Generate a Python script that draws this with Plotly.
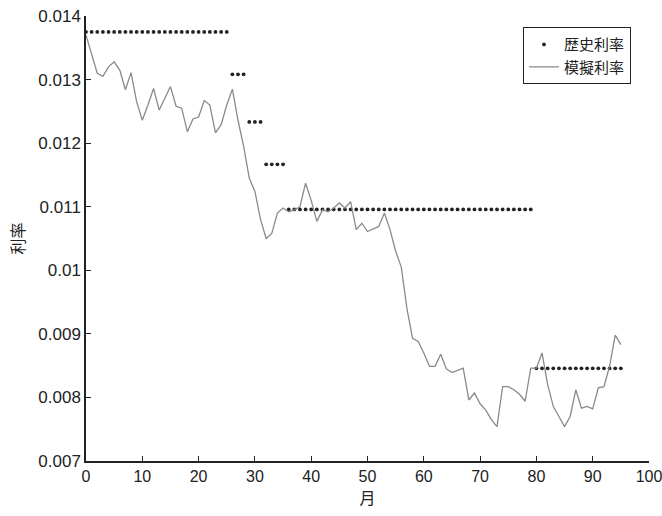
import plotly.graph_objects as go

# Month index 0..95
months = list(range(96))

# Historical monthly rates (annual rate / 12), held constant between changes
hist_levels = [0.01375, 0.013083, 0.012333, 0.011667, 0.010958, 0.008458]
hist_counts = [26, 3, 3, 4, 44, 16]
hist_rate = [lv for lv, n in zip(hist_levels, hist_counts) for _ in range(n)]

# Simulated monthly rate path
sim_rate = [
    0.01370, 0.01340, 0.01310, 0.01305, 0.01320, 0.01328, 0.01315, 0.01284, 0.01311, 0.01265,
    0.01236, 0.01260, 0.01286, 0.01252, 0.01270, 0.01289, 0.01258, 0.01255, 0.01218, 0.01238,
    0.01241, 0.01267, 0.01260, 0.01216, 0.01229, 0.01260, 0.01285, 0.01236, 0.01195, 0.01145,
    0.01124, 0.01080, 0.01050, 0.01058, 0.01090, 0.01098, 0.01092, 0.01095, 0.01100, 0.01137,
    0.01110, 0.01077, 0.01095, 0.01092, 0.01098, 0.01106, 0.01098, 0.01108, 0.01064, 0.01074,
    0.01061, 0.01065, 0.01069, 0.01090, 0.01064, 0.01030, 0.01005, 0.00940, 0.00893, 0.00888,
    0.00870, 0.00849, 0.00849, 0.00868, 0.00845, 0.00839, 0.00842, 0.00846, 0.00796, 0.00807,
    0.00790, 0.00780, 0.00765, 0.00754, 0.00817, 0.00817, 0.00812, 0.00805, 0.00794, 0.00846,
    0.00846, 0.00870, 0.00820, 0.00786, 0.00770, 0.00754, 0.00770, 0.00812, 0.00783, 0.00786,
    0.00782, 0.00815, 0.00817, 0.00849, 0.00898, 0.00883,
]

x_ticks = list(range(0, 101, 10))
y_ticks = [0.007, 0.008, 0.009, 0.010, 0.011, 0.012, 0.013, 0.014]
y_tick_text = ["0.007", "0.008", "0.009", "0.01", "0.011", "0.012", "0.013", "0.014"]

NUM_FONT = "Liberation Sans, Arial, sans-serif"
CJK_FONT = "Noto Sans CJK JP, sans-serif"

fig = go.Figure()
fig.add_trace(go.Scatter(
    x=months, y=hist_rate, mode="markers", name="歴史利率",
    marker=dict(symbol="circle", size=3.8, color="#222222"),
))
fig.add_trace(go.Scatter(
    x=months, y=sim_rate, mode="lines", name="模擬利率",
    line=dict(color="#8a8a8a", width=1.3),
))

fig.update_layout(
    width=662, height=516,
    margin=dict(l=86, r=13, t=16, b=55, autoexpand=False),
    paper_bgcolor="white", plot_bgcolor="white",
    showlegend=True,
    legend=dict(
        x=0.968, y=0.975, xanchor="right", yanchor="top",
        bgcolor="white", bordercolor="#222222", borderwidth=1,
        font=dict(family=CJK_FONT, size=15, color="#222222"),
        itemwidth=30, tracegroupgap=0,
    ),
)
fig.update_xaxes(
    range=[0, 100], tickvals=x_ticks, ticks="inside", ticklen=5, tickwidth=1,
    tickcolor="#222222", showline=True, linecolor="#222222", linewidth=1.5,
    showgrid=False, zeroline=False, mirror=False, ticklabeloverflow="allow",
    automargin=False,
    tickfont=dict(family=NUM_FONT, size=16, color="#222222"),
    title=dict(text="月", font=dict(family=CJK_FONT, size=16, color="#222222"), standoff=6),
)
fig.update_yaxes(
    range=[0.007, 0.014], tickvals=y_ticks, ticktext=y_tick_text, ticks="inside",
    ticklen=5, tickwidth=1, tickcolor="#222222", showline=True, linecolor="#222222",
    linewidth=1.5, showgrid=False, zeroline=False, mirror=False, automargin=False,
    tickfont=dict(family=NUM_FONT, size=17, color="#222222"),
    title=dict(text="利率", font=dict(family=CJK_FONT, size=16, color="#222222"), standoff=10),
)

fig.write_html("out.html")
